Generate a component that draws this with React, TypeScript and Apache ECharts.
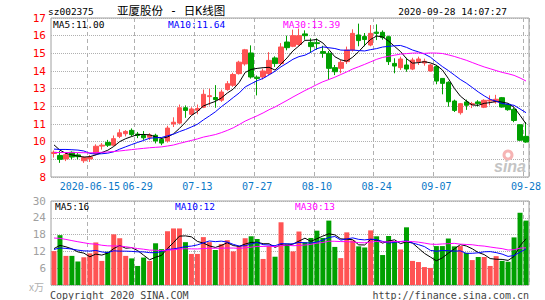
import React, { useEffect, useRef } from "react";
import * as echarts from "echarts";

const dates = [
  "2020-06-05","2020-06-08","2020-06-09","2020-06-10","2020-06-11","2020-06-12","2020-06-15","2020-06-16","2020-06-17","2020-06-18",
  "2020-06-19","2020-06-22","2020-06-23","2020-06-24","2020-06-29","2020-06-30","2020-07-01","2020-07-02","2020-07-03","2020-07-06",
  "2020-07-07","2020-07-08","2020-07-09","2020-07-10","2020-07-13","2020-07-14","2020-07-15","2020-07-16","2020-07-17","2020-07-20",
  "2020-07-21","2020-07-22","2020-07-23","2020-07-24","2020-07-27","2020-07-28","2020-07-29","2020-07-30","2020-07-31","2020-08-03",
  "2020-08-04","2020-08-05","2020-08-06","2020-08-07","2020-08-10","2020-08-11","2020-08-12","2020-08-13","2020-08-14","2020-08-17",
  "2020-08-18","2020-08-19","2020-08-20","2020-08-21","2020-08-24","2020-08-25","2020-08-26","2020-08-27","2020-08-28","2020-08-31",
  "2020-09-01","2020-09-02","2020-09-03","2020-09-04","2020-09-07","2020-09-08","2020-09-09","2020-09-10","2020-09-11","2020-09-14",
  "2020-09-15","2020-09-16","2020-09-17","2020-09-18","2020-09-21","2020-09-22","2020-09-23","2020-09-24","2020-09-25","2020-09-28",
];

const opens = [
  9.33, 9.22, 9.02, 9.40, 9.25, 8.92, 9.02, 9.32, 9.75, 9.96,
  9.80, 10.30, 10.45, 10.64, 10.43, 10.35, 10.25, 10.36, 10.13, 10.04,
  11.00, 11.05, 11.92, 11.55, 11.78, 11.95, 12.55, 12.50, 12.35, 12.95,
  13.19, 13.85, 14.40, 15.02, 13.65, 13.66, 13.85, 14.74, 14.42, 15.64,
  15.40, 15.50, 16.10, 15.62, 15.60, 15.10, 15.00, 14.19, 14.15, 14.53,
  15.19, 16.04, 15.95, 15.47, 16.20, 16.19, 15.94, 14.43, 14.19, 14.34,
  14.11, 14.53, 14.45, 14.00, 14.25, 13.58, 13.36, 12.30, 11.64, 12.25,
  12.10, 12.25, 11.95, 12.30, 12.25, 12.49, 12.11, 11.83, 10.96, 10.30,
];
const closes = [
  9.40, 9.00, 9.26, 9.13, 9.15, 9.10, 9.13, 9.74, 9.80, 9.80,
  10.17, 10.50, 10.58, 10.40, 10.35, 10.22, 10.38, 10.04, 9.92, 10.77,
  11.10, 11.92, 11.77, 11.85, 11.88, 12.68, 12.60, 12.38, 12.81, 13.28,
  13.80, 14.50, 15.20, 13.66, 13.58, 14.00, 14.60, 14.42, 15.36, 15.32,
  16.00, 16.00, 16.00, 15.38, 15.55, 15.00, 14.15, 13.96, 14.49, 15.19,
  16.13, 15.72, 15.78, 16.13, 16.13, 15.89, 14.53, 14.28, 14.68, 14.11,
  14.62, 14.68, 14.55, 14.34, 13.43, 13.30, 12.26, 11.77, 12.15, 12.06,
  12.15, 12.15, 12.34, 12.35, 12.40, 11.96, 11.81, 11.20, 10.08, 9.98,
];
const lows = [
  9.10, 8.80, 8.90, 9.00, 9.00, 8.80, 8.85, 9.23, 9.55, 9.70,
  9.75, 10.20, 10.30, 10.30, 10.20, 10.10, 10.10, 9.90, 9.80, 9.95,
  10.83, 11.00, 11.35, 11.50, 11.55, 11.90, 12.05, 11.92, 12.25, 12.88,
  13.10, 13.80, 14.30, 13.57, 12.62, 13.52, 13.77, 14.23, 14.32, 15.17,
  15.35, 15.43, 15.77, 15.02, 15.20, 14.75, 13.50, 13.77, 13.87, 14.40,
  15.10, 15.40, 15.40, 15.40, 15.75, 15.77, 14.34, 13.87, 14.06, 13.96,
  14.05, 14.34, 14.30, 13.96, 13.25, 12.68, 11.98, 11.68, 11.53, 11.80,
  11.90, 12.00, 11.90, 12.05, 12.15, 11.93, 11.75, 11.10, 10.05, 9.94,
];
const highs = [
  9.50, 9.47, 9.36, 9.45, 9.35, 9.17, 9.25, 9.85, 9.92, 10.10,
  10.35, 10.70, 10.65, 10.75, 10.55, 10.60, 10.48, 10.45, 10.22, 10.90,
  11.38, 12.10, 12.05, 11.95, 12.10, 12.95, 13.00, 13.20, 12.95, 13.43,
  13.90, 14.58, 15.25, 15.45, 13.75, 14.13, 15.07, 14.83, 15.58, 16.00,
  16.34, 16.40, 16.30, 15.85, 15.85, 15.43, 15.13, 14.34, 14.62, 15.38,
  16.36, 16.68, 16.15, 16.60, 16.64, 16.30, 16.00, 14.72, 14.81, 14.75,
  14.75, 14.81, 14.70, 14.40, 14.34, 13.58, 13.42, 12.38, 12.19, 12.38,
  12.25, 12.35, 12.40, 12.62, 12.65, 12.53, 12.15, 11.93, 11.00, 11.11,
];
// volume, in units of 10,000 lots (万)
const volumes = [
  12.1, 17.8, 10.4, 10.4, 8.4, 9.9, 11.3, 15.2, 8.6, 11.9,
  18.1, 16.7, 10.4, 9.5, 6.8, 9.8, 8.6, 14.9, 12.8, 19.2,
  20.2, 20.2, 15.3, 11.1, 11.1, 17.1, 15.3, 12.5, 14.6, 16.0,
  12.0, 13.9, 16.7, 17.4, 16.4, 9.3, 13.9, 10.1, 22.4, 14.8,
  12.0, 19.1, 15.3, 16.8, 19.4, 16.8, 23.0, 13.6, 9.6, 18.8,
  15.9, 13.8, 13.4, 19.5, 17.4, 10.7, 17.5, 15.6, 12.7, 20.6,
  8.6, 8.2, 6.4, 6.1, 13.9, 13.9, 16.6, 13.8, 13.9, 11.5,
  8.9, 10.0, 10.0, 6.8, 10.3, 8.6, 8.3, 17.0, 25.8, 23.0,
];
// sessions before the visible window, only used for the moving averages
const priorCloses = [
  9.10, 9.20, 9.30, 9.15, 9.25, 9.40, 9.35, 9.30, 9.20, 9.45,
  9.50, 9.40, 9.30, 9.20, 9.25, 9.35, 9.30, 9.20, 9.25, 9.40,
  9.20, 9.25, 9.30, 9.35, 9.60, 10.50, 10.16, 9.58, 9.45,
];
const priorVolumes = [
  22, 21.5, 23, 20.5, 21, 22, 19.5, 20, 18.5, 19,
  18, 17.5, 19, 17, 16.5, 18, 17, 16, 15.5, 15,
  12.5, 12.0, 12.8, 12.2, 12.5, 12, 13, 14, 13.9,
];

const axisDates = ["2020-06-15", "2020-06-29", "2020-07-13", "2020-07-27", "2020-08-10", "2020-08-24", "2020-09-07", "2020-09-28"];
const priceTicks = { min: 8, max: 17, step: 1 };
const volumeTicks = { min: 0, max: 30, step: 6 };

const title = "亚厦股份 - 日K线图";
const code = "sz002375";
const stamp = "2020-09-28 14:07:27";
const priceLegend = ["MA5:11.00", "MA10:11.64", "MA30:13.39"];
const volumeLegend = ["MA5:16", "MA10:12", "MA30:13"];

function movingAverage(values: number[], prior: number[], n: number) {
  const all = prior.concat(values);
  return values.map((_, i) => {
    const end = prior.length + i;
    let s = 0;
    for (let k = end - n + 1; k <= end; k++) s += all[k];
    return +(s / n).toFixed(3);
  });
}

const UP = "#ff5353";
const DOWN = "#00a000";
const MONO = "'DejaVu Sans Mono', 'Liberation Mono', monospace";

export default function App() {
  const ref = useRef<HTMLDivElement>(null);
  useEffect(() => {
    if (!ref.current) return;
    const chart = echarts.init(ref.current, undefined, { renderer: "svg" });
    const labelSet = new Set(axisDates.map((d) => dates.indexOf(d)));
    const firstLabel = dates.indexOf(axisDates[0]);
    const candles = dates.map((_, i) => [opens[i], closes[i], lows[i], highs[i]]);
    const volBars = volumes.map((v, i) => ({
      value: v,
      itemStyle: { color: closes[i] >= opens[i] ? UP : DOWN },
    }));
    const lineS = (data: number[], color: string, x: number) => ({
      type: "line",
      xAxisIndex: x,
      yAxisIndex: x,
      data,
      showSymbol: false,
      silent: true,
      lineStyle: { color, width: 1 },
      z: 5,
    });
    const splitX = {
      show: true,
      interval: (i: number) => labelSet.has(i),
      lineStyle: { color: "#b0b0b0", type: [4, 3], width: 1 },
    };
    const txt = (text: string, x: number, y: number, color: string, size: number, align = "left", family = MONO) => ({
      type: "text",
      x,
      y,
      silent: true,
      z: 100,
      style: { text, fill: color, fontSize: size, fontFamily: family, align, verticalAlign: "middle" },
    });
    chart.setOption({
      animation: false,
      backgroundColor: "#ffffff",
      grid: [
        { left: 51, top: 18, width: 478, height: 159, show: true, borderColor: "#a0a0a0", borderWidth: 1 },
        { left: 51, top: 201, width: 478, height: 84, show: true, borderColor: "#a0a0a0", borderWidth: 1 },
      ],
      xAxis: [
        {
          type: "category",
          gridIndex: 0,
          data: dates,
          boundaryGap: true,
          axisLine: { show: false },
          axisTick: { show: false },
          axisLabel: {
            interval: (i: number) => labelSet.has(i),
            formatter: (v: string, i: number) => (i === firstLabel ? v : v.slice(5)),
            color: "#0a78c8",
            fontFamily: MONO,
            fontSize: 10,
            margin: 4,
          },
          splitLine: splitX,
        },
        {
          type: "category",
          gridIndex: 1,
          data: dates,
          boundaryGap: true,
          axisLine: { show: false },
          axisTick: { show: false },
          axisLabel: { show: false },
          splitLine: splitX,
        },
      ],
      yAxis: [
        {
          type: "value",
          gridIndex: 0,
          min: priceTicks.min,
          max: priceTicks.max,
          interval: priceTicks.step,
          axisLine: { show: false },
          axisTick: { show: false },
          axisLabel: { color: "#ff0000", fontFamily: MONO, fontSize: 11, margin: 5 },
          splitLine: { lineStyle: { color: "#b0b0b0", type: "dotted" } },
        },
        {
          type: "value",
          gridIndex: 1,
          min: volumeTicks.min,
          max: volumeTicks.max,
          interval: volumeTicks.step,
          axisLine: { show: false },
          axisTick: { show: false },
          axisLabel: {
            color: "#a0a0a0",
            fontFamily: MONO,
            fontSize: 11,
            margin: 5,
            formatter: (v: number) => (v === 0 ? "" : String(v)),
          },
          splitLine: { lineStyle: { color: "#b0b0b0", type: "dotted" } },
        },
      ],
      series: [
        {
          type: "candlestick",
          xAxisIndex: 0,
          yAxisIndex: 0,
          data: candles,
          barWidth: 5,
          itemStyle: { color: UP, color0: DOWN, borderColor: UP, borderColor0: DOWN, borderWidth: 1 },
          z: 3,
        },
        lineS(movingAverage(closes, priorCloses, 5), "#000000", 0),
        lineS(movingAverage(closes, priorCloses, 10), "#0000ff", 0),
        lineS(movingAverage(closes, priorCloses, 30), "#ff00ff", 0),
        {
          type: "bar",
          xAxisIndex: 1,
          yAxisIndex: 1,
          data: volBars,
          barWidth: 5,
          z: 3,
        },
        lineS(movingAverage(volumes, priorVolumes, 5), "#000000", 1),
        lineS(movingAverage(volumes, priorVolumes, 10), "#0000ff", 1),
        lineS(movingAverage(volumes, priorVolumes, 30), "#ff00ff", 1),
      ],
      graphic: [
        txt(code, 48, 11, "#000", 9.5),
        txt(title, 117, 11, "#000", 11.5, "left", "'DejaVu Sans Mono', 'Noto Sans CJK SC', monospace"),
        txt(stamp, 507, 11, "#000", 9.5, "right"),
        txt(priceLegend[0], 53, 24, "#000", 9.5),
        txt(priceLegend[1], 168, 24, "#0000ff", 9.5),
        txt(priceLegend[2], 283, 24, "#ff00ff", 9.5),
        txt(volumeLegend[0], 55, 206, "#000", 9.5),
        txt(volumeLegend[1], 175, 206, "#0000ff", 9.5),
        txt(volumeLegend[2], 295, 206, "#ff00ff", 9.5),
        txt("x万", 29, 286, "#b0b0b0", 10, "left", "'Noto Sans CJK SC', sans-serif"),
        txt("Copyright 2020 SINA.COM", 50, 295, "#444", 10),
        txt("http://finance.sina.com.cn", 529, 295, "#444", 10, "right"),
        {
          type: "ring",
          silent: true,
          z: 1,
          shape: { cx: 508, cy: 155, r: 5.5, r0: 2.5 },
          style: { fill: "#f6b4b4" },
        },
        {
          type: "text",
          x: 494,
          y: 166,
          silent: true,
          z: 1,
          style: {
            text: "sina",
            fill: "#c4c4c4",
            fontSize: 16,
            fontStyle: "italic",
            fontWeight: "bold",
            fontFamily: "'Liberation Sans', sans-serif",
            verticalAlign: "middle",
          },
        },
      ],
    });
    return () => chart.dispose();
  }, []);
  return <div ref={ref} style={{ position: "fixed", left: 0, top: 0, width: 545, height: 300 }} />;
}
